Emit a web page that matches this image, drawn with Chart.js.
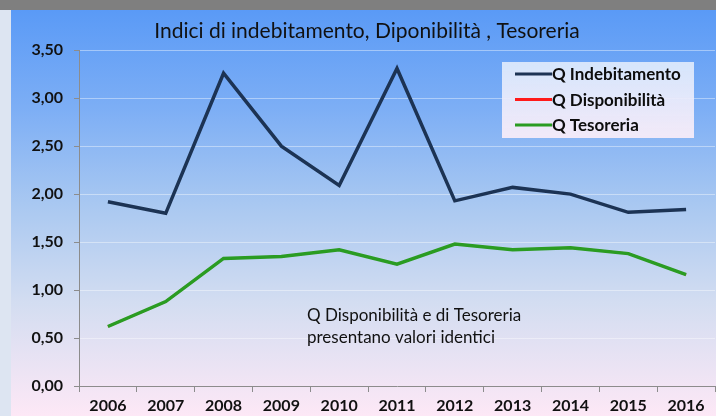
<!DOCTYPE html>
<html>
<head>
<meta charset="utf-8">
<script src="https://cdn.jsdelivr.net/npm/chart.js@4/dist/chart.umd.min.js"></script>
<style>
  html, body { margin: 0; padding: 0; }
  body { width: 716px; height: 416px; background: #dde5f2; position: relative; overflow: hidden; }
  .topbar { position: absolute; left: 0; top: 0; width: 716px; height: 10px; background: #7f7f7f; }
  .panel {
    position: absolute; left: 11px; top: 10px; width: 705px; height: 406px;
    background: linear-gradient(to bottom, #5a9af6 0%, #7eaff5 25%, #a9c8f1 48%, #d3ddf1 72%, #fde8f6 100%);
  }
  .panel canvas { display: block; }
</style>
</head>
<body>
<div class="topbar"></div>
<div class="panel"><canvas class="line-chart" width="705" height="406"></canvas></div>
<script>
const years = ["2006", "2007", "2008", "2009", "2010", "2011", "2012", "2013", "2014", "2015", "2016"];
const q_indebitamento = [1.92, 1.80, 3.26, 2.50, 2.09, 3.31, 1.93, 2.07, 2.00, 1.81, 1.84];
const q_disponibilita = [0.62, 0.88, 1.33, 1.35, 1.42, 1.27, 1.48, 1.42, 1.44, 1.38, 1.16];
const q_tesoreria = [0.62, 0.88, 1.33, 1.35, 1.42, 1.27, 1.48, 1.42, 1.44, 1.38, 1.16];
const note_lines = ["Q Disponibilità e di Tesoreria", "presentano valori identici"];

const ctx = document.querySelector(".line-chart").getContext("2d");

// legend box drawn inside the plot, like the original
const boxLegend = {
  id: "boxLegend",
  afterDatasetsDraw(chart) {
    const c = chart.ctx;
    const x = 491, y = 52, w = 192, h = 76;
    c.save();
    const g = c.createLinearGradient(0, y, 0, y + h);
    g.addColorStop(0, "rgba(225,236,252,0.9)");
    g.addColorStop(1, "rgba(248,236,248,0.95)");
    c.fillStyle = g;
    c.fillRect(x, y, w, h);
    c.font = "bold 17px Lato";
    c.textBaseline = "middle";
    chart.data.datasets.forEach((ds, i) => {
      const ly = y + 12 + i * 25.5;
      c.strokeStyle = ds.borderColor;
      c.lineWidth = 3;
      c.beginPath();
      c.moveTo(x + 13, ly);
      c.lineTo(x + 50, ly);
      c.stroke();
      c.fillStyle = "#0d0d0d";
      c.fillText(ds.label, x + 50, ly + 1);
    });
    c.restore();
  },
};

const noteText = {
  id: "noteText",
  afterDatasetsDraw(chart) {
    const c = chart.ctx;
    c.save();
    c.font = "17px Lato";
    c.fillStyle = "#111";
    c.textBaseline = "middle";
    note_lines.forEach((t, i) => c.fillText(t, 296, 306 + i * 22));
    c.restore();
  },
};

const line_chart = new Chart(ctx, {
  type: "line",
  data: {
    labels: years,
    datasets: [
      {
        label: "Q Indebitamento",
        data: q_indebitamento,
        borderColor: "#1c3354",
        backgroundColor: "#1c3354",
        borderWidth: 3.5,
        pointRadius: 0,
        order: 1,
      },
      {
        label: "Q Disponibilità",
        data: q_disponibilita,
        borderColor: "#ff1a1a",
        backgroundColor: "#ff1a1a",
        borderWidth: 2,
        pointRadius: 0,
        order: 3,
      },
      {
        label: "Q Tesoreria",
        data: q_tesoreria,
        borderColor: "#2a9c22",
        backgroundColor: "#2a9c22",
        borderWidth: 3.5,
        pointRadius: 0,
        order: 2,
      },
    ],
  },
  plugins: [boxLegend, noteText],
  options: {
    responsive: false,
    animation: false,
    tension: 0,
    layout: { padding: { left: 8, right: 1, top: 0, bottom: 0 } },
    plugins: {
      legend: { display: false },
      tooltip: { enabled: false },
      title: {
        display: true,
        text: "Indici di indebitamento, Diponibilità , Tesoreria",
        color: "#111",
        font: { family: "Lato", size: 21, weight: "normal" },
        padding: { top: 9, bottom: 6 },
      },
    },
    scales: {
      x: {
        offset: true,
        grid: {
          display: true,
          offset: true,
          drawOnChartArea: false,
          drawTicks: true,
          tickLength: 6,
          color: "#8c8c8c",
        },
        border: { color: "#8c8c8c", width: 1 },
        ticks: {
          color: "#111",
          font: { family: "Lato", size: 16, weight: "bold" },
          padding: 4,
          maxRotation: 0,
        },
        afterFit(scale) { scale.height = 30; },
      },
      y: {
        min: 0,
        max: 3.5,
        grid: {
          color: "rgba(255,255,255,0.4)",
          tickColor: "#8c8c8c",
          tickLength: 5,
        },
        border: { color: "#8c8c8c", width: 1 },
        ticks: {
          stepSize: 0.5,
          color: "#111",
          font: { family: "Lato", size: 16, weight: "bold" },
          padding: 11,
          callback: (v) => v.toFixed(2).replace(".", ","),
        },
        afterFit(scale) { scale.width = 60; },
      },
    },
  },
});
</script>
</body>
</html>
